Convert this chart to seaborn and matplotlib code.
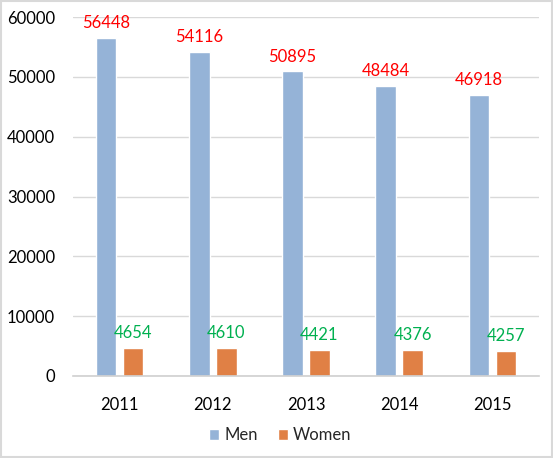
import pandas as pd
import numpy as np
import matplotlib.pyplot as plt
import seaborn as sns
from matplotlib.patches import Rectangle

years = ['2011', '2012', '2013', '2014', '2015']
men = [56448, 54116, 50895, 48484, 46918]
women = [4654, 4610, 4421, 4376, 4257]

df = pd.DataFrame({
    'year': years * 2,
    'value': men + women,
    'sex': ['Men'] * len(years) + ['Women'] * len(years),
})

sns.set_style('white')
plt.rcParams['font.family'] = ['Lato', 'DejaVu Sans']

fig = plt.figure(figsize=(5.53, 4.58), dpi=100)
ax = fig.add_axes([73 / 553, 1 - 376 / 458, (539 - 73) / 553, (376 - 17) / 458])

sns.barplot(data=df, x='year', y='value', hue='sex', ax=ax,
            palette={'Men': '#95B3D7', 'Women': '#E08045'},
            width=0.58, gap=0.24, saturation=1, legend=True)

ax.set_ylim(0, 60000)
ax.set_yticks(range(0, 60001, 10000))
ax.yaxis.grid(True, color='#D9D9D9', linewidth=1)
ax.set_axisbelow(True)
for s in ['top', 'right', 'left']:
    ax.spines[s].set_visible(False)
ax.spines['bottom'].set_color('#D0D0D0')
ax.spines['bottom'].set_linewidth(1.2)
ax.tick_params(axis='both', length=0, labelsize=12, colors='black')
ax.tick_params(axis='x', pad=15)
ax.tick_params(axis='y', pad=13)
ax.set_xlabel('')
ax.set_ylabel('')

# value labels
for cont, color in zip(ax.containers, ['#FF0000', '#00B050']):
    ax.bar_label(cont, color=color, fontsize=12, padding=5)

leg = ax.legend(loc='center', bbox_to_anchor=(0.445, -0.165), ncol=2, frameon=False,
                fontsize=12, handlelength=0.6, handleheight=0.6, handletextpad=0.3,
                columnspacing=1.2)

fig.patches.append(Rectangle((0.002, 0.002), 0.996, 0.996, transform=fig.transFigure,
                             fill=False, edgecolor='#D9D9D9', linewidth=1.5))

fig.savefig('out.png', dpi=100)
